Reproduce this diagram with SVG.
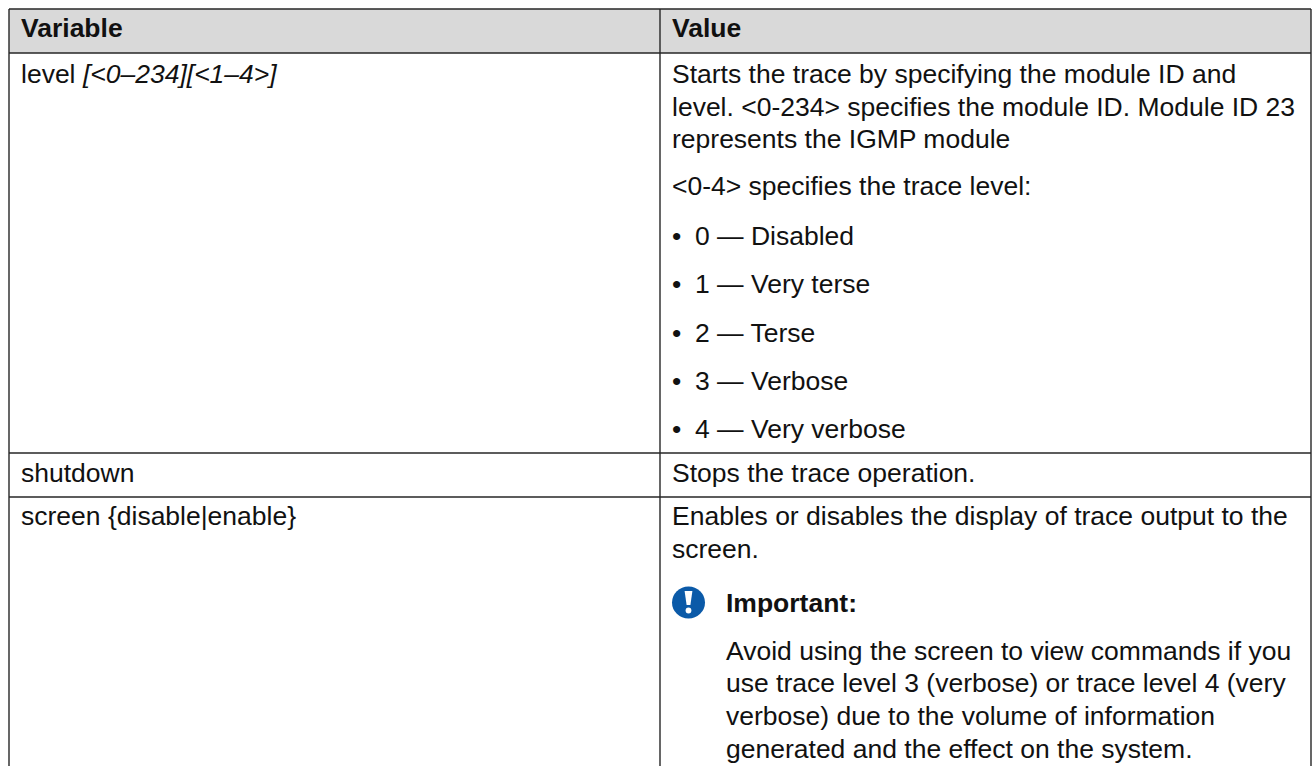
<svg xmlns="http://www.w3.org/2000/svg" width="1313" height="766" viewBox="0 0 1313 766">
  <style>
    text { font-family: "Liberation Sans", Arial, sans-serif; font-size: 26.5px; fill: #111; }
    .b { font-weight: bold; }
    .i { font-style: italic; }
    .grid { stroke: #262626; stroke-width: 1.4; fill: none; }
  </style>
  <rect x="0" y="0" width="1313" height="766" fill="#fff"/>
  <g id="header">
    <rect x="9" y="9" width="1302" height="44" fill="#d9d9d9"/>
    <text class="b" x="21" y="37">Variable</text>
    <text class="b" x="672" y="37">Value</text>
  </g>
  <g id="grid">
    <line class="grid" x1="9" y1="9" x2="1311" y2="9"/>
    <line class="grid" x1="9" y1="53" x2="1311" y2="53"/>
    <line class="grid" x1="9" y1="453" x2="1311" y2="453"/>
    <line class="grid" x1="9" y1="497" x2="1311" y2="497"/>
    <line class="grid" x1="9" y1="9" x2="9" y2="766"/>
    <line class="grid" x1="660" y1="9" x2="660" y2="766"/>
    <line class="grid" x1="1311" y1="9" x2="1311" y2="766"/>
  </g>
  <g id="row-level">
    <text x="21" y="83">level <tspan class="i">[&lt;0–234][&lt;1–4&gt;]</tspan></text>
    <text x="672" y="83">Starts the trace by specifying the module ID and</text>
    <text x="672" y="116">level. &lt;0-234&gt; specifies the module ID. Module ID 23</text>
    <text x="672" y="148">represents the IGMP module</text>
    <text x="672" y="195">&lt;0-4&gt; specifies the trace level:</text>
    <text x="672" y="245">•</text><text x="695" y="245">0 — Disabled</text>
    <text x="672" y="293">•</text><text x="695" y="293">1 — Very terse</text>
    <text x="672" y="342">•</text><text x="695" y="342">2 — Terse</text>
    <text x="672" y="390">•</text><text x="695" y="390">3 — Verbose</text>
    <text x="672" y="438">•</text><text x="695" y="438">4 — Very verbose</text>
  </g>
  <g id="row-shutdown">
    <text x="21" y="482">shutdown</text>
    <text x="672" y="482">Stops the trace operation.</text>
  </g>
  <g id="row-screen">
    <text x="21" y="525">screen {disable|enable}</text>
    <text x="672" y="525">Enables or disables the display of trace output to the</text>
    <text x="672" y="558">screen.</text>
    <g id="important-icon">
      <ellipse cx="688.5" cy="602.5" rx="16.5" ry="16" fill="#0b5aa8"/>
      <path d="M684.6 591 L692.4 591 L690.4 605 L686.6 605 Z" fill="#fff"/>
      <circle cx="688.5" cy="610.5" r="2.9" fill="#fff"/>
    </g>
    <text class="b" x="726" y="612">Important:</text>
    <text x="726" y="660">Avoid using the screen to view commands if you</text>
    <text x="726" y="692">use trace level 3 (verbose) or trace level 4 (very</text>
    <text x="726" y="725">verbose) due to the volume of information</text>
    <text x="726" y="758">generated and the effect on the system.</text>
  </g>
</svg>
